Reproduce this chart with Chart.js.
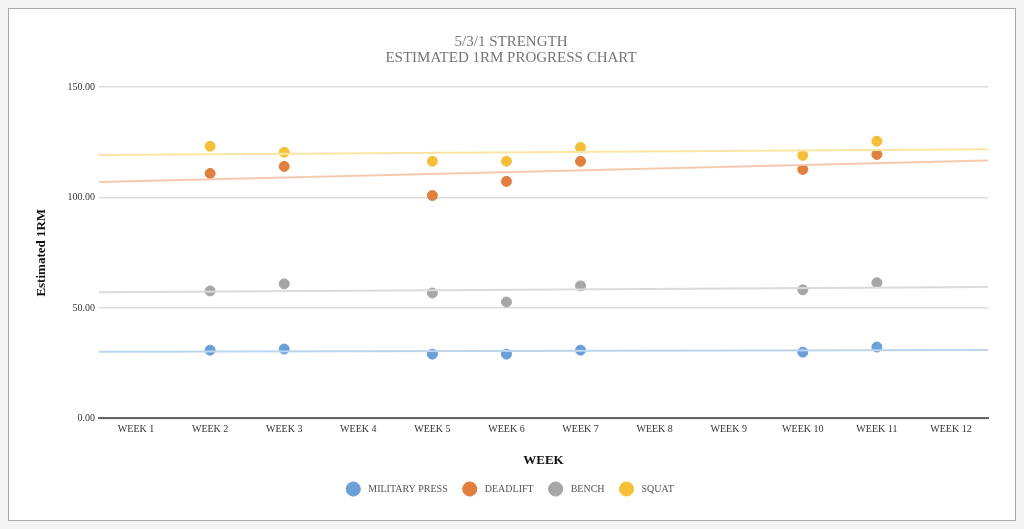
<!DOCTYPE html>
<html>
<head>
<meta charset="utf-8">
<script src="https://cdn.jsdelivr.net/npm/chart.js@4"></script>
<style>
  html, body { margin: 0; padding: 0; background: #f4f4f4; }
  #wrap { position: absolute; left: 0; top: 0; width: 1024px; height: 529px; }
  #frame { position: absolute; left: 8px; top: 8px; width: 1006px; height: 511px;
           border: 1.5px solid #aaaaaa; background: #fff; }
  canvas { position: absolute; left: 0; top: 0; }
</style>
</head>
<body>
<div id="wrap">
  <div id="frame"></div>
  <canvas id="myChart" width="1024" height="529"></canvas>
</div>
<script>
// weeks on the x axis
var weeks = ["WEEK 1", "WEEK 2", "WEEK 3", "WEEK 4", "WEEK 5", "WEEK 6",
    "WEEK 7", "WEEK 8", "WEEK 9", "WEEK 10", "WEEK 11", "WEEK 12"];

// estimated 1RM per week (null = no lift logged)
var militaryPress = [null, 30.9, 31.4, null, 29.1, 29.1, 30.9, null, null, 30.0, 32.3, null];
var deadlift      = [null, 110.9, 114.1, null, 100.9, 107.3, 116.4, null, null, 112.7, 119.5, null];
var bench         = [null, 57.7, 60.9, null, 56.8, 52.7, 60.0, null, null, 58.2, 61.4, null];
var squat         = [null, 123.2, 120.5, null, 116.4, 116.4, 122.7, null, null, 119.1, 125.5, null];

var yTicks = [0, 50, 100, 150];

var serif = "'Liberation Serif', 'DejaVu Serif', serif";

function toPoints(values) {
    var pts = [];
    values.forEach(function (v, i) {
        if (v !== null) pts.push({ x: i + 1, y: v });
    });
    return pts;
}

// least squares trend line across the whole plot width
function trendLine(values) {
    var pts = toPoints(values);
    var n = pts.length, sx = 0, sy = 0, sxy = 0, sxx = 0;
    pts.forEach(function (p) { sx += p.x; sy += p.y; sxy += p.x * p.y; sxx += p.x * p.x; });
    var slope = (n * sxy - sx * sy) / (n * sxx - sx * sx);
    var icpt = (sy - slope * sx) / n;
    var x0 = 0.5, x1 = weeks.length + 0.5;
    return [{ x: x0, y: icpt + slope * x0 }, { x: x1, y: icpt + slope * x1 }];
}

var series = [
    { label: "MILITARY PRESS", data: militaryPress, color: "#6a9fd8", trend: "#bcd5ef" },
    { label: "DEADLIFT", data: deadlift, color: "#e07f3e", trend: "#f4cbb0" },
    { label: "BENCH", data: bench, color: "#a6a6a6", trend: "#dadada" },
    { label: "SQUAT", data: squat, color: "#f5bf38", trend: "#fbe5a3" }
];

var datasets = [];
series.forEach(function (s) {
    datasets.push({
        label: s.label + " trend",
        type: "line",
        data: trendLine(s.data),
        borderColor: s.trend,
        borderWidth: 2,
        pointRadius: 0,
        fill: false,
        isTrend: true
    });
});
series.forEach(function (s) {
    datasets.push({
        label: s.label,
        type: "scatter",
        data: toPoints(s.data),
        backgroundColor: s.color,
        borderColor: s.color,
        pointRadius: 5,
        pointHoverRadius: 5
    });
});

var ctx = document.getElementById("myChart").getContext("2d");
var myChart = new Chart(ctx, {
    type: "scatter",
    data: { datasets: datasets },
    options: {
        responsive: false,
        animation: false,
        layout: { padding: { left: 34, right: 36, top: 34, bottom: 25 } },
        plugins: {
            title: {
                display: true,
                text: ["5/3/1 STRENGTH", "ESTIMATED 1RM PROGRESS CHART"],
                color: "#757575",
                font: { family: serif, size: 15, weight: "normal", lineHeight: 1.07 },
                padding: { top: 0, bottom: 21 }
            },
            legend: {
                position: "bottom",
                labels: {
                    generateLabels: function (chart) {
                        var items = Chart.defaults.plugins.legend.labels.generateLabels(chart);
                        items = items.filter(function (it) { return !chart.data.datasets[it.datasetIndex].isTrend; });
                        items.forEach(function (it) { it.text = "  " + it.text; });
                        return items;
                    },
                    usePointStyle: true,
                    pointStyle: "circle",
                    boxWidth: 12,
                    boxHeight: 12,
                    padding: 17,
                    color: "#555555",
                    font: { family: serif, size: 10 }
                }
            },
            tooltip: { enabled: false }
        },
        scales: {
            x: {
                type: "linear",
                min: 0.5,
                max: weeks.length + 0.5,
                afterBuildTicks: function (scale) {
                    scale.ticks = weeks.map(function (w, i) { return { value: i + 1 }; });
                },
                ticks: {
                    callback: function (v) { return weeks[v - 1]; },
                    color: "#333333",
                    font: { family: serif, size: 10 },
                    padding: 5,
                    maxRotation: 0,
                    autoSkip: false
                },
                grid: { display: false, drawTicks: false },
                border: { display: true, color: "#666666", width: 2 },
                title: {
                    display: true,
                    text: "WEEK",
                    color: "#111111",
                    font: { family: serif, size: 13, weight: "bold" },
                    padding: { top: 12, bottom: -1 }
                }
            },
            y: {
                min: 0,
                max: 150,
                afterBuildTicks: function (scale) {
                    scale.ticks = yTicks.map(function (v) { return { value: v }; });
                },
                afterFit: function (scale) { scale.width = 65; },
                ticks: {
                    callback: function (v) { return v.toFixed(2); },
                    color: "#333333",
                    font: { family: serif, size: 10 },
                    padding: 4
                },
                grid: { color: "#dcdcdc", lineWidth: 1.5, drawTicks: false },
                border: { display: false },
                title: {
                    display: true,
                    text: "Estimated 1RM",
                    color: "#111111",
                    font: { family: serif, size: 13, weight: "bold" },
                    padding: 0
                }
            }
        }
    }
});
</script>
</body>
</html>
